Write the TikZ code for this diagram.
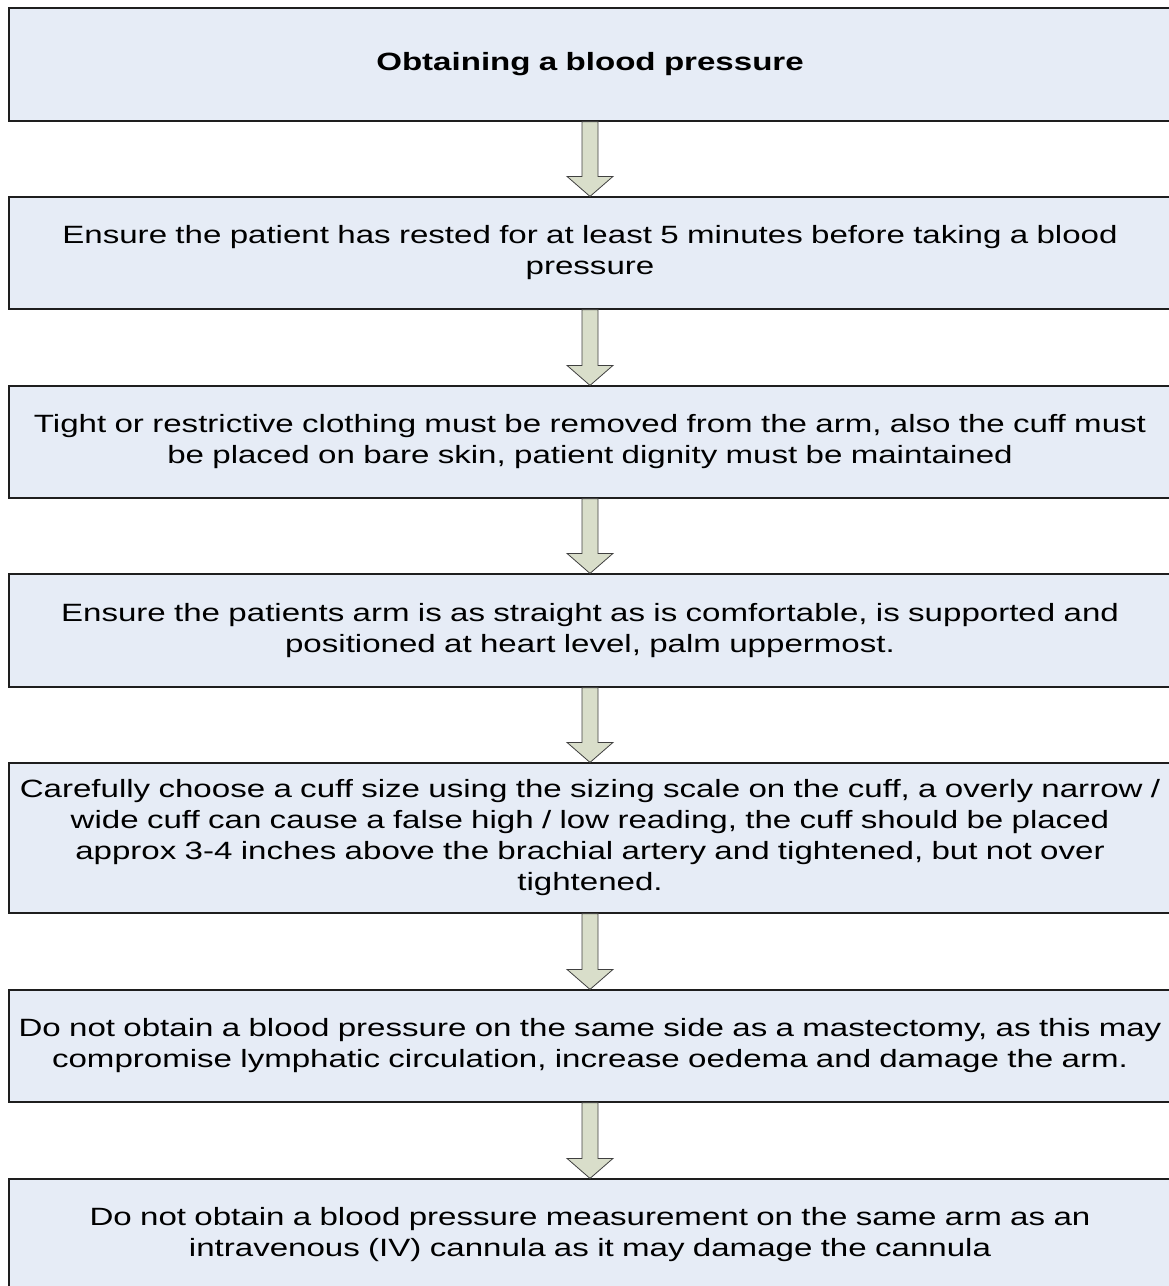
\documentclass[tikz,border=0pt]{standalone}
\usepackage{fontspec}
\setmainfont{Liberation Sans}[FakeStretch=1.323]
\usepackage{tikz}
\usetikzlibrary{calc}
\definecolor{boxfill}{HTML}{E6ECF6}
\definecolor{arrowfill}{HTML}{D9DECA}
\definecolor{boxline}{HTML}{1E1E1E}
\tikzset{
  stepbox/.style={draw=boxline, line width=1.2pt, fill=boxfill, rectangle,
    minimum width=1162pt, text width=1162pt, inner xsep=0pt, align=center,
    font=\fontsize{25}{31}\selectfont},
  blockarrow/.style={draw=black!75, line width=0.8pt, fill=arrowfill}
}
\newcommand{\downarrowbetween}[2]{%
  \draw[blockarrow] ($(#1.south)+(-8,0)$) -- ($(#2.north)+(-8,20)$) -- ($(#2.north)+(-23,20)$)
    -- (#2.north) -- ($(#2.north)+(23,20)$) -- ($(#2.north)+(8,20)$) -- ($(#1.south)+(8,0)$) -- cycle;}

\begin{document}
\begin{tikzpicture}[x=1pt,y=1pt]
\useasboundingbox (0,0) rectangle (1169,-1286);
\clip (0,0) rectangle (1169,-1286);
\fill[white] (0,0) rectangle (1169,-1286);
\node[stepbox, minimum height=113pt] (title) at (590,-64.5) {\textbf{Obtaining a blood pressure}};
\node[stepbox, minimum height=112pt] (rest) at (590,-253) {Ensure the patient has rested for at least 5 minutes before taking a blood\\pressure};
\node[stepbox, minimum height=112pt] (clothing) at (590,-442) {Tight or restrictive clothing must be removed from the arm, also the cuff must\\be placed on bare skin, patient dignity must be maintained};
\node[stepbox, minimum height=113pt] (arm) at (590,-630.5) {Ensure the patients arm is as straight as is comfortable, is supported and\\positioned at heart level, palm uppermost.};
\node[stepbox, minimum height=150pt] (cuff) at (590,-838) {Carefully choose a cuff size using the sizing scale on the cuff, a overly narrow /\\wide cuff can cause a false high / low reading, the cuff should be placed\\approx 3-4 inches above the brachial artery and tightened, but not over\\tightened.};
\node[stepbox, minimum height=112pt] (mastectomy) at (590,-1046) {Do not obtain a blood pressure on the same side as a mastectomy, as this may\\compromise lymphatic circulation, increase oedema and damage the arm.};
\node[stepbox, minimum height=112pt] (cannula) at (590,-1235) {Do not obtain a blood pressure measurement on the same arm as an\\intravenous (IV) cannula as it may damage the cannula};
\downarrowbetween{title}{rest}
\downarrowbetween{rest}{clothing}
\downarrowbetween{clothing}{arm}
\downarrowbetween{arm}{cuff}
\downarrowbetween{cuff}{mastectomy}
\downarrowbetween{mastectomy}{cannula}
\end{tikzpicture}
\end{document}
